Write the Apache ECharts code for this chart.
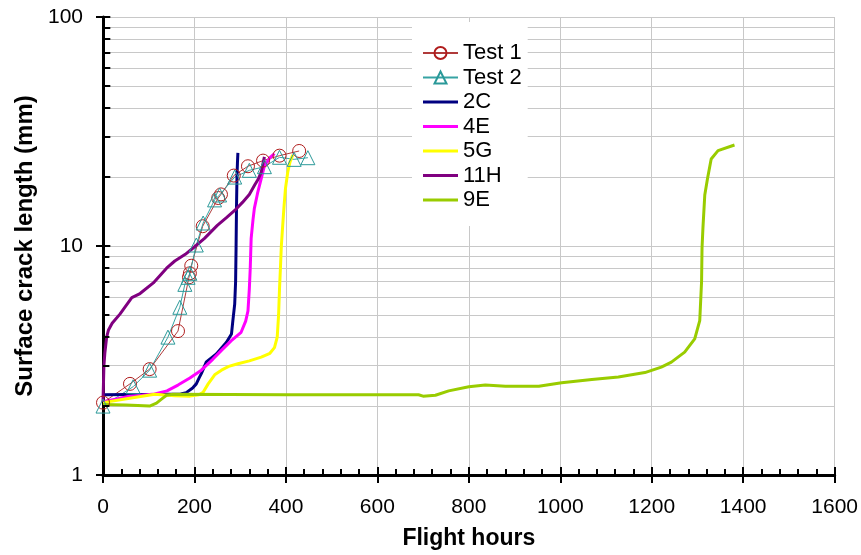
<!DOCTYPE html>
<html>
<head>
<meta charset="UTF-8">
<title>Surface crack length</title>
<script type="text/javascript" src="https://cdn.jsdelivr.net/npm/echarts@6/dist/echarts.min.js"></script>
<style>
  body{margin:0;background:#fff}
</style>
</head>
<body>
<div id="main" style="width:861px;height:555px"></div>
<script type="text/javascript">
	// flight hours vs surface crack length (mm)
	var test1 = [[0,2.07],[59,2.5],[102,2.9],[164,4.25],[188,7.3],[190,7.6],[193,8.2],[218,12.2],[252,16.2],[258,16.8],[286,20.3],[317,22.3],[350,23.6],[386,24.8],[429,26.0]];
	var test2 = [[0,2.0],[66,2.43],[102,2.87],[142,4.0],[168,5.4],[179,6.8],[186,7.3],[190,7.6],[204,10.1],[219,12.6],[244,15.9],[255,16.7],[288,20.0],[320,21.4],[353,22.2],[386,24.4],[418,23.9],[448,24.3]];
	var s2C = [[0,2.24],[120,2.25],[170,2.26],[182,2.29],[196,2.4],[204,2.5],[210,2.65],[215,2.77],[226,3.12],[248,3.38],[270,3.8],[281,4.13],[284,4.72],[288,5.57],[290,7.0],[291,9.8],[292,15],[293,20],[294,23],[295,25.5]];
	var s4E = [[0,2.09],[30,2.15],[55,2.2],[113,2.26],[140,2.33],[164,2.47],[190,2.65],[215,2.87],[240,3.2],[259,3.5],[280,3.85],[302,4.2],[312,4.7],[317,5.2],[320,6.5],[322,8],[324,10.8],[328,13],[331,14.6],[338,17],[346,19.7],[353,22.4],[365,24.3],[375,25.3]];
	var s5G = [[0,2.07],[55,2.16],[113,2.25],[157,2.22],[190,2.21],[210,2.24],[219,2.3],[230,2.5],[245,2.75],[259,2.87],[275,2.98],[295,3.06],[320,3.15],[346,3.27],[365,3.4],[375,3.6],[381,4.0],[384,5.0],[386,6.5],[388,8],[390,10],[393,12.3],[396,15],[399,17.8],[404,21],[409,23.3],[415,25]];
	var s11H = [[0,2.09],[1,2.5],[2,3.0],[4,3.4],[8,4.0],[12,4.3],[20,4.6],[37,5.04],[63,5.95],[81,6.2],[110,6.9],[139,8.0],[157,8.6],[180,9.2],[197,9.8],[222,10.8],[250,12.3],[270,13.3],[288,14.3],[305,15.5],[320,16.8],[332,18.5],[339,19.5],[346,21],[349,22.5],[353,24.5]];
	var s9E = [[0,2.03],[50,2.02],[102,2.0],[117,2.06],[130,2.16],[139,2.23],[153,2.25],[400,2.24],[690,2.24],[700,2.21],[727,2.23],[756,2.33],[800,2.43],[836,2.47],[880,2.44],[953,2.44],[1003,2.53],[1069,2.61],[1127,2.68],[1185,2.8],[1221,2.96],[1243,3.11],[1272,3.44],[1294,3.93],[1305,4.72],[1309,7.0],[1310,9.8],[1312,12],[1316,16.7],[1322,19.7],[1330,24],[1345,26.1],[1381,27.6]];

	var names = ['Test 1','Test 2','2C','4E','5G','11H','9E'];
	var minorVals = [2,3,4,5,6,7,8,9,20,30,40,50,60,70,80,90];
	var tickVals = [1,2,3,4,5,6,7,8,9,10,20,30,40,50,60,70,80,90,100];

	var myChart = echarts.init(document.getElementById('main'));

	// plain line icon for legend (tiny corner dots keep the box 35x15)
	var lineIcon = 'path://M0,0L0.01,0L0,0.01Z M0,6L35,6L35,9L0,9Z M35,15L34.99,15L35,14.99Z';

	function curve(name, data, color) {
		return {
			name: name, type: 'line', data: data,
			showSymbol: false, symbol: 'none',
			lineStyle: {color: color, width: 3},
			itemStyle: {color: color}
		};
	}

	var gridLines = minorVals.map(function (v) { return {yAxis: v}; });
	var innerTicks = tickVals.map(function (v) {
		return [{coord: [0, v]}, {coord: [v % 10 === 0 || v === 1 ? 16 : 14, v]}];
	});
	var legendData = names.map(function (n, i) {
		return i < 2 ? {name: n} : {name: n, icon: lineIcon};
	});

	var option = {
		animation: false,
		backgroundColor: '#fff',
		textStyle: {fontFamily: 'Liberation Sans, Arial, sans-serif'},
		grid: {left: 103, right: 24, top: 17, bottom: 76},
		legend: {
			data: legendData,
			orient: 'vertical',
			left: 412, top: 22,
			padding: [20, 6, 15, 10],
			backgroundColor: '#fff',
			itemWidth: 35, itemHeight: 15, itemGap: 2.5,
			textStyle: {fontSize: 22, color: '#000', lineHeight: 22}
		},
		xAxis: [{
			type: 'value', min: 0, max: 1600, interval: 200,
			name: 'Flight hours', nameLocation: 'middle', nameGap: 52,
			nameTextStyle: {fontSize: 23, fontWeight: 'bold', color: '#000'},
			axisLine: {onZero: false, lineStyle: {color: '#000', width: 3}},
			axisTick: {show: true, inside: false, length: 8, lineStyle: {color: '#000', width: 2}},
			axisLabel: {fontSize: 21, color: '#000', margin: 22, formatter: function (v) { return String(v); }},
			splitLine: {show: true, lineStyle: {color: '#c8c8c8', width: 1}}
		}, {
			type: 'value', min: 0, max: 1600, interval: 200, position: 'bottom',
			axisLine: {show: false, onZero: false},
			axisTick: {show: true, inside: true, length: 8, lineStyle: {color: '#000', width: 2}},
			minorTick: {show: true, splitNumber: 5, length: 6, lineStyle: {color: '#000', width: 2}},
			axisLabel: {show: false},
			splitLine: {show: false}
		}],
		yAxis: {
			type: 'log', min: 1, max: 100, logBase: 10,
			name: 'Surface crack length (mm)', nameLocation: 'middle', nameGap: 66,
			nameTextStyle: {fontSize: 24, fontWeight: 'bold', color: '#000'},
			axisLine: {lineStyle: {color: '#000', width: 3}},
			axisTick: {show: true, inside: false, length: 7, lineStyle: {color: '#000', width: 2}},
			axisLabel: {fontSize: 21, color: '#000', margin: 20},
			splitLine: {show: true, lineStyle: {color: '#c8c8c8', width: 1}}
		},
		series: [{
			name: 'grid', type: 'line', data: [[0, 1]], symbol: 'none',
			lineStyle: {width: 0}, silent: true, z: 1,
			markLine: {
				z: 1, silent: true, symbol: ['none', 'none'], label: {show: false},
				lineStyle: {color: '#c8c8c8', width: 1, type: 'solid'},
				data: gridLines
			}
		}, {
			name: 'ticks', type: 'line', data: [[0, 1]], symbol: 'none',
			lineStyle: {width: 0}, silent: true, z: 5,
			markLine: {
				silent: true, symbol: ['none', 'none'], label: {show: false},
				lineStyle: {color: '#000', width: 2, type: 'solid'},
				data: innerTicks
			}
		}, {
			name: 'Test 1', type: 'line', data: test1,
			symbol: 'circle', symbolSize: 13,
			lineStyle: {color: '#b03a3a', width: 1},
			itemStyle: {color: 'rgba(0,0,0,0)', borderColor: '#b01c1c', borderWidth: 1}
		}, {
			name: 'Test 2', type: 'line', data: test2,
			symbol: 'triangle', symbolSize: 14,
			lineStyle: {color: '#36a3a3', width: 1},
			itemStyle: {color: 'rgba(0,0,0,0)', borderColor: '#2a9999', borderWidth: 1}
		},
		curve('2C', s2C, '#000080'),
		curve('4E', s4E, '#ff00ff'),
		curve('5G', s5G, '#ffff00'),
		curve('11H', s11H, '#800080'),
		curve('9E', s9E, '#99cc00')
		]
	};

	myChart.setOption(option);
</script>
</body>
</html>
